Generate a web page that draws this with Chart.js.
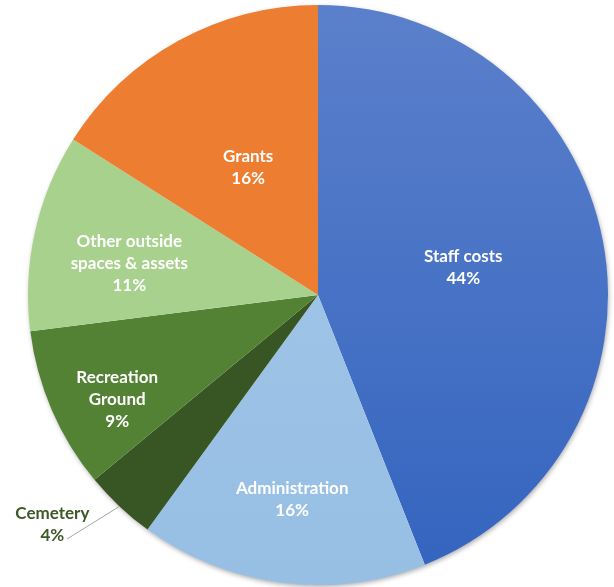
<!DOCTYPE html>
<html lang="en">
<head>
<meta charset="UTF-8">
<title>Expenditure breakdown</title>
<script src="https://cdn.jsdelivr.net/npm/chart.js@4.4.0/dist/chart.umd.min.js"></script>
<style>
    html, body { margin: 0; padding: 0; background: #ffffff; }
    .wrap { position: relative; width: 614px; height: 587px; }
</style>
</head>
<body>
<div class="wrap"><canvas id="pie"></canvas></div>
<script>
// data, clockwise from 12 o'clock
const categories = ['Staff costs', 'Administration', 'Cemetery', 'Recreation Ground', 'Other outside spaces & assets', 'Grants'];
const shares = [44, 16, 4, 9, 11, 16];
const labelLines = [['Staff costs'], ['Administration'], ['Cemetery'], ['Recreation', 'Ground'], ['Other outside', 'spaces & assets'], ['Grants']];

const sliceColors = ['#4A74C6', '#9DC3E6', '#375623', '#548235', '#A9D18E', '#ED7D31'];

// where each label sits: fraction of radius along the slice middle, plus a small turn in degrees
const labelPlace = [
    { r: 0.51, turn: 0 },
    { r: 0.71, turn: 0 },
    { r: 1.21, turn: 6, outside: true, lineR: 1.207, lineTurn: 2.6 },
    { r: 0.78, turn: -4 },
    { r: 0.66, turn: -3 },
    { r: 0.50, turn: 0 }
];

function sliceFill(ctx) {
    const area = ctx.chart.chartArea;
    const i = ctx.dataIndex;
    if (!area) return sliceColors[i];
    const c = ctx.chart.ctx;
    if (i === 0) {
        const g = c.createLinearGradient(0, area.top, 0, area.bottom);
        g.addColorStop(0, '#5B80CB');
        g.addColorStop(1, '#3464BF');
        return g;
    }
    if (i === 1) {
        const g = c.createLinearGradient(0, area.top, 0, area.bottom);
        g.addColorStop(0, '#A3C7E8');
        g.addColorStop(1, '#97BFE4');
        return g;
    }
    return sliceColors[i];
}

// soft shadow under the whole pie
const pieShadow = {
    id: 'pieShadow',
    beforeDatasetsDraw(chart) {
        const arc = chart.getDatasetMeta(0).data[0];
        if (!arc) return;
        const ctx = chart.ctx;
        ctx.save();
        ctx.shadowColor = 'rgba(0,0,0,0.35)';
        ctx.shadowBlur = 5;
        ctx.shadowOffsetX = 1;
        ctx.shadowOffsetY = 2;
        ctx.fillStyle = '#ffffff';
        ctx.beginPath();
        ctx.arc(arc.x, arc.y, arc.outerRadius - 0.5, 0, Math.PI * 2);
        ctx.fill();
        ctx.restore();
    }
};

const sliceLabels = {
    id: 'sliceLabels',
    afterDatasetsDraw(chart) {
        const ctx = chart.ctx;
        const meta = chart.getDatasetMeta(0);
        const lh = 22;
        ctx.save();
        ctx.font = 'bold 17px Lato, "Open Sans", sans-serif';
        ctx.textAlign = 'center';
        ctx.textBaseline = 'middle';
        meta.data.forEach((arc, i) => {
            const p = labelPlace[i];
            const mid = (arc.startAngle + arc.endAngle) / 2;
            const a = mid + p.turn * Math.PI / 180;
            const rad = arc.outerRadius * p.r;
            const x = arc.x + Math.cos(a) * rad;
            const y = arc.y + Math.sin(a) * rad;
            const lines = labelLines[i].concat([shares[i] + '%']);
            if (p.outside) {
                const la = mid + p.lineTurn * Math.PI / 180;
                ctx.strokeStyle = '#A6A6A6';
                ctx.lineWidth = 1;
                ctx.beginPath();
                ctx.moveTo(arc.x + Math.cos(mid) * arc.outerRadius, arc.y + Math.sin(mid) * arc.outerRadius);
                ctx.lineTo(arc.x + Math.cos(la) * arc.outerRadius * p.lineR, arc.y + Math.sin(la) * arc.outerRadius * p.lineR);
                ctx.stroke();
                ctx.fillStyle = '#3B5A27';
            } else {
                ctx.fillStyle = '#ffffff';
            }
            const n = lines.length - 1;
            lines.forEach((t, k) => {
                ctx.fillText(t, x, y + (k - n / 2) * lh);
            });
        });
        ctx.restore();
    }
};

new Chart(document.getElementById('pie'), {
    type: 'pie',
    data: {
        labels: categories,
        datasets: [{
            data: shares,
            backgroundColor: sliceFill,
            borderWidth: 0,
            hoverBorderWidth: 0,
            hoverOffset: 0
        }]
    },
    options: {
        responsive: true,
        maintainAspectRatio: false,
        animation: false,
        layout: { padding: { left: 28, right: 6, top: 5, bottom: 2 } },
        plugins: {
            legend: { display: false },
            tooltip: { enabled: false }
        }
    },
    plugins: [pieShadow, sliceLabels]
});
</script>
</body>
</html>
